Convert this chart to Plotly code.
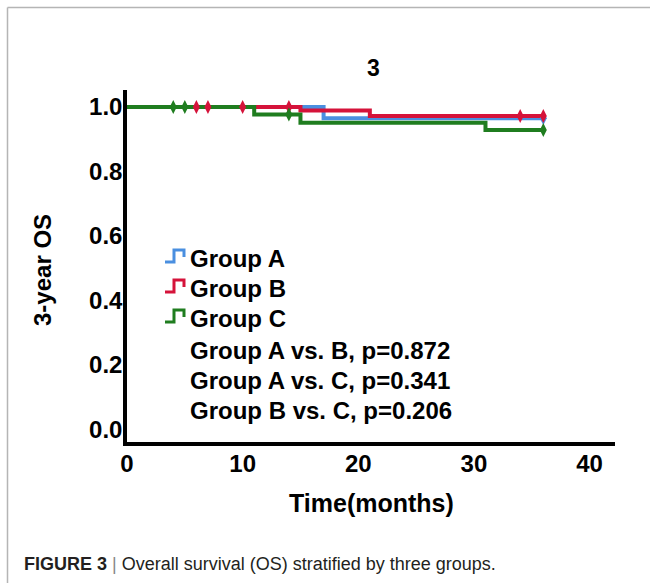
import plotly.graph_objects as go

# ---------------- data ----------------
groups = ["Group A", "Group B", "Group C"]
colors = ["#4a8fe0", "#d5133a", "#1f7d1f"]

a_time = [0, 17, 36]
a_surv = [1.0, 0.965, 0.965]
b_time = [0, 15, 21, 36]
b_surv = [1.0, 0.989, 0.972, 0.972]
c_time = [0, 11, 15, 31, 36]
c_surv = [1.0, 0.977, 0.951, 0.929, 0.929]

a_cens = [36]
b_cens = [6, 7, 10, 14, 34, 36]
c_cens = [4, 5, 14, 36]

p_texts = ["Group A vs. B, p=0.872", "Group A vs. C, p=0.341", "Group B vs. C, p=0.206"]
y_ticks = [0.0, 0.2, 0.4, 0.6, 0.8, 1.0]
x_ticks = [0, 10, 20, 30, 40]

# ---------------- layout helpers ----------------
W, H = 650, 583
L, R, T, B = 127, 35, 90, 141
PW, PH = W - L - R, H - T - B


def px(x):
    return (x - L) / PW


def py(y):
    return (H - B - y) / PH


def surv_at(times, surv, t):
    s = surv[0]
    for ti, si in zip(times, surv):
        if ti <= t:
            s = si
    return s


FONT = "Liberation Sans, Arial, sans-serif"
fig = go.Figure()

series = [(a_time, a_surv, a_cens), (b_time, b_surv, b_cens), (c_time, c_surv, c_cens)]
for (t, s, c), col, name in zip(series, colors, groups):
    fig.add_trace(go.Scatter(x=t, y=s, mode="lines", line=dict(color=col, width=4, shape="hv"),
                             name=name, showlegend=False, hoverinfo="skip"))
for (t, s, c), col, name in zip(series, colors, groups):
    fig.add_trace(go.Scatter(x=c, y=[surv_at(t, s, ci) for ci in c], mode="markers",
                             marker=dict(symbol="diamond-tall", size=10, color=col, line=dict(width=0)),
                             showlegend=False, hoverinfo="skip"))

shapes = []
annotations = []
# frame
shapes.append(dict(type="line", xref="paper", yref="paper", x0=px(7.5), y0=py(7.5), x1=px(650), y1=py(7.5),
                   line=dict(color="#b5b5b5", width=1.5)))
shapes.append(dict(type="line", xref="paper", yref="paper", x0=px(7.5), y0=py(7.5), x1=px(7.5), y1=py(583),
                   line=dict(color="#b5b5b5", width=1.5)))

# legend
row_y = [258, 288, 318]
for yc, col, name in zip(row_y, colors, groups):
    x0 = 165
    pts = [(x0, yc + 4), (x0 + 9, yc + 4), (x0 + 9, yc - 8), (x0 + 19, yc - 8), (x0 + 19, yc - 1)]
    path = "M " + " L ".join(f"{px(a):.5f},{py(b):.5f}" for a, b in pts)
    shapes.append(dict(type="path", xref="paper", yref="paper", path=path,
                       line=dict(color=col, width=3)))
    annotations.append(dict(text=f"<b>{name}</b>", x=px(188), y=py(yc), xref="paper", yref="paper",
                            xanchor="left", yanchor="middle", showarrow=False,
                            font=dict(family=FONT, size=24, color="black")))
for i, txt in enumerate(p_texts):
    annotations.append(dict(text=f"<b>{txt}</b>", x=px(188), y=py(350 + 30 * i), xref="paper", yref="paper",
                            xanchor="left", yanchor="middle", showarrow=False,
                            font=dict(family=FONT, size=24, color="black")))

# titles
annotations.append(dict(text="<b>3</b>", x=px(373), y=py(68), xref="paper", yref="paper",
                        xanchor="center", yanchor="middle", showarrow=False,
                        font=dict(family=FONT, size=23, color="black")))
annotations.append(dict(text="<b>Time(months)</b>", x=px(371), y=py(503), xref="paper", yref="paper",
                        xanchor="center", yanchor="middle", showarrow=False,
                        font=dict(family=FONT, size=25, color="black")))
annotations.append(dict(text="<b>3-year OS</b>", x=px(42), y=py(270), xref="paper", yref="paper",
                        xanchor="center", yanchor="middle", showarrow=False, textangle=-90,
                        font=dict(family=FONT, size=24, color="black")))
annotations.append(dict(text="<b>FIGURE 3</b> <span style='color:#888'>|</span> Overall survival (OS) stratified by three groups.",
                        x=px(22), y=py(564), xref="paper", yref="paper",
                        xanchor="left", yanchor="middle", showarrow=False,
                        font=dict(family="Liberation Sans, Arial", size=18, color="#231f20")))

fig.update_layout(
    width=W, height=H,
    margin=dict(l=L, r=R, t=T, b=B, pad=0),
    paper_bgcolor="white", plot_bgcolor="white",
    shapes=shapes, annotations=annotations,
    xaxis=dict(range=[0, 42.2], tickvals=x_ticks, ticktext=[f"<b>{v}</b>" for v in x_ticks],
               showgrid=False, zeroline=False, showline=True, linecolor="black", linewidth=3.5,
               ticks="", ticklabelstandoff=-3, tickfont=dict(family=FONT, size=24, color="black")),
    yaxis=dict(range=[-0.04, 1.053], tickvals=y_ticks, ticktext=[f"<b>{v:.1f}</b>" for v in y_ticks],
               showgrid=False, zeroline=False, showline=True, linecolor="black", linewidth=3.5,
               ticks="", ticklabelstandoff=-4, tickfont=dict(family=FONT, size=24, color="black")),
    showlegend=False,
)

fig.write_html("out.html", config={"displayModeBar": False},
               post_script="document.body.style.margin='0px';")
